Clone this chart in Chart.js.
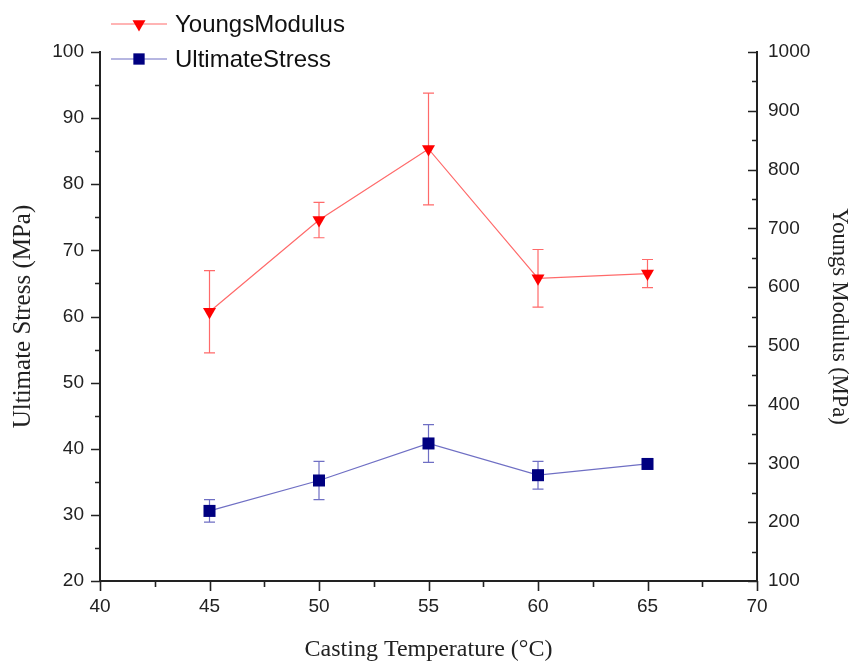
<!DOCTYPE html>
<html>
<head>
<meta charset="utf-8">
<script src="https://cdn.jsdelivr.net/npm/chart.js@4"></script>
<style>
  html, body { margin: 0; padding: 0; background: #fff; }
  #wrap { width: 852px; height: 666px; }
</style>
</head>
<body>
<div id="wrap"><canvas id="myChart" width="852" height="666"></canvas></div>
<script>
// casting temperature (°C)
const temps = [45, 50, 55, 60, 65];
// ultimate stress (MPa), left axis
const stress = [30.6, 35.2, 40.8, 36.0, 37.7];
const stressErr = [1.7, 2.9, 2.85, 2.1, 0.4];
// youngs modulus (MPa), right axis
const modulus = [558, 714, 835, 615, 623];
const modulusErr = [70, 30, 95, 49, 24];

const red = "#ff0000";
const redLine = "#ff6a6a";
const navy = "#000080";
const navyLine = "#6f6fc4";
const axisColor = "#222";

// error bars, minor/major tick marks and the legend
const extras = {
  id: "extras",
  beforeDatasetsDraw(chart) {
    const c = chart.ctx;
    const x = chart.scales.x;
    const bars = [
      { ys: chart.scales.y1, vals: modulus, errs: modulusErr, color: redLine },
      { ys: chart.scales.y, vals: stress, errs: stressErr, color: navyLine },
    ];
    c.save();
    c.lineWidth = 1.2;
    bars.forEach((b) => {
      c.strokeStyle = b.color;
      temps.forEach((t, i) => {
        const px = x.getPixelForValue(t);
        const top = b.ys.getPixelForValue(b.vals[i] + b.errs[i]);
        const bot = b.ys.getPixelForValue(b.vals[i] - b.errs[i]);
        c.beginPath();
        c.moveTo(px, top); c.lineTo(px, bot);
        c.moveTo(px - 5.5, top); c.lineTo(px + 5.5, top);
        c.moveTo(px - 5.5, bot); c.lineTo(px + 5.5, bot);
        c.stroke();
      });
    });
    c.restore();
  },
  afterDraw(chart) {
    const c = chart.ctx;
    const { x, y, y1 } = chart.scales;
    const a = chart.chartArea;
    c.save();
    c.strokeStyle = axisColor;
    c.lineWidth = 1.6;
    c.beginPath();
    for (let v = 40; v <= 70; v += 2.5) {
      const px = Math.round(x.getPixelForValue(v)) + 0.5;
      const len = v % 5 === 0 ? 10 : 6;
      c.moveTo(px, a.bottom); c.lineTo(px, a.bottom + len);
    }
    for (let v = 20; v <= 100; v += 5) {
      const py = Math.round(y.getPixelForValue(v)) + 0.5;
      const len = v % 10 === 0 ? 9 : 5;
      c.moveTo(a.left, py); c.lineTo(a.left - len, py);
    }
    for (let v = 100; v <= 1000; v += 50) {
      const py = Math.round(y1.getPixelForValue(v)) + 0.5;
      const len = v % 100 === 0 ? 9 : 5;
      c.moveTo(a.right, py); c.lineTo(a.right - len, py);
    }
    c.stroke();

    // legend
    const items = [
      { label: "YoungsModulus", line: redLine, fill: red, style: "triangle", rot: 180, r: 7.5, y: 24 },
      { label: "UltimateStress", line: navyLine, fill: navy, style: "rect", rot: 0, r: 8, y: 59 },
    ];
    items.forEach((it) => {
      c.strokeStyle = it.line;
      c.lineWidth = 1.2;
      c.beginPath();
      c.moveTo(111, it.y); c.lineTo(167, it.y);
      c.stroke();
      c.fillStyle = it.fill;
      Chart.helpers.drawPoint(c, { pointStyle: it.style, rotation: it.rot, radius: it.r, borderWidth: 0 }, 139, it.y);
      c.fillStyle = "#111";
      c.font = "24px 'Liberation Sans', Arial, sans-serif";
      c.textBaseline = "middle";
      c.textAlign = "left";
      c.fillText(it.label, 175, it.y + 1);
    });
    c.restore();
  },
};

const tickFont = { family: "'Liberation Sans', Arial, sans-serif", size: 19 };
const serif = "'Liberation Serif', 'Times New Roman', serif";

const ctx = document.getElementById("myChart");

const chart = new Chart(ctx, {
  type: "line",
  data: {
    datasets: [
      {
        label: "YoungsModulus",
        data: temps.map((t, i) => ({ x: t, y: modulus[i] })),
        yAxisID: "y1",
        borderColor: redLine,
        borderWidth: 1.2,
        pointStyle: "triangle",
        rotation: 180,
        pointRadius: 7.5,
        pointBackgroundColor: red,
        pointBorderWidth: 0,
        tension: 0,
      },
      {
        label: "UltimateStress",
        data: temps.map((t, i) => ({ x: t, y: stress[i] })),
        yAxisID: "y",
        borderColor: navyLine,
        borderWidth: 1.2,
        pointStyle: "rect",
        pointRadius: 8.5,
        pointBackgroundColor: navy,
        pointBorderWidth: 0,
        tension: 0,
      },
    ],
  },
  options: {
    responsive: false,
    animation: false,
    layout: { padding: { top: 52, right: 0, left: 0, bottom: 0 } },
    plugins: {
      legend: { display: false },
      tooltip: { enabled: false },
    },
    scales: {
      x: {
        type: "linear",
        min: 40,
        max: 70,
        grid: { display: false, drawTicks: false },
        border: { display: true, color: axisColor, width: 2 },
        ticks: { stepSize: 5, padding: 14, color: "#222", font: tickFont, maxRotation: 0 },
        title: { display: true, text: "Casting Temperature (°C)", color: "#222", font: { family: serif, size: 24 }, padding: { top: 0, bottom: 2 } },
        afterFit: (s) => { s.height = 85; },
      },
      y: {
        position: "left",
        min: 20,
        max: 100,
        grid: { display: false, drawTicks: false },
        border: { display: true, color: axisColor, width: 2 },
        ticks: { stepSize: 10, padding: 16, color: "#222", font: tickFont },
        title: { display: true, text: "Ultimate Stress (MPa)", color: "#222", font: { family: serif, size: 25 }, padding: { top: 8, bottom: 0 } },
        afterFit: (s) => { s.width = 100; },
      },
      y1: {
        position: "right",
        min: 100,
        max: 1000,
        grid: { display: false, drawTicks: false },
        border: { display: true, color: axisColor, width: 2 },
        ticks: { stepSize: 100, padding: 11, color: "#222", font: tickFont, callback: (v) => String(v) },
        title: { display: true, text: "Youngs Modulus (MPa)", color: "#222", font: { family: serif, size: 22.5 }, padding: { top: 0, bottom: 0 } },
        afterFit: (s) => { s.width = 95; },
      },
    },
  },
  plugins: [extras],
});
</script>
</body>
</html>
